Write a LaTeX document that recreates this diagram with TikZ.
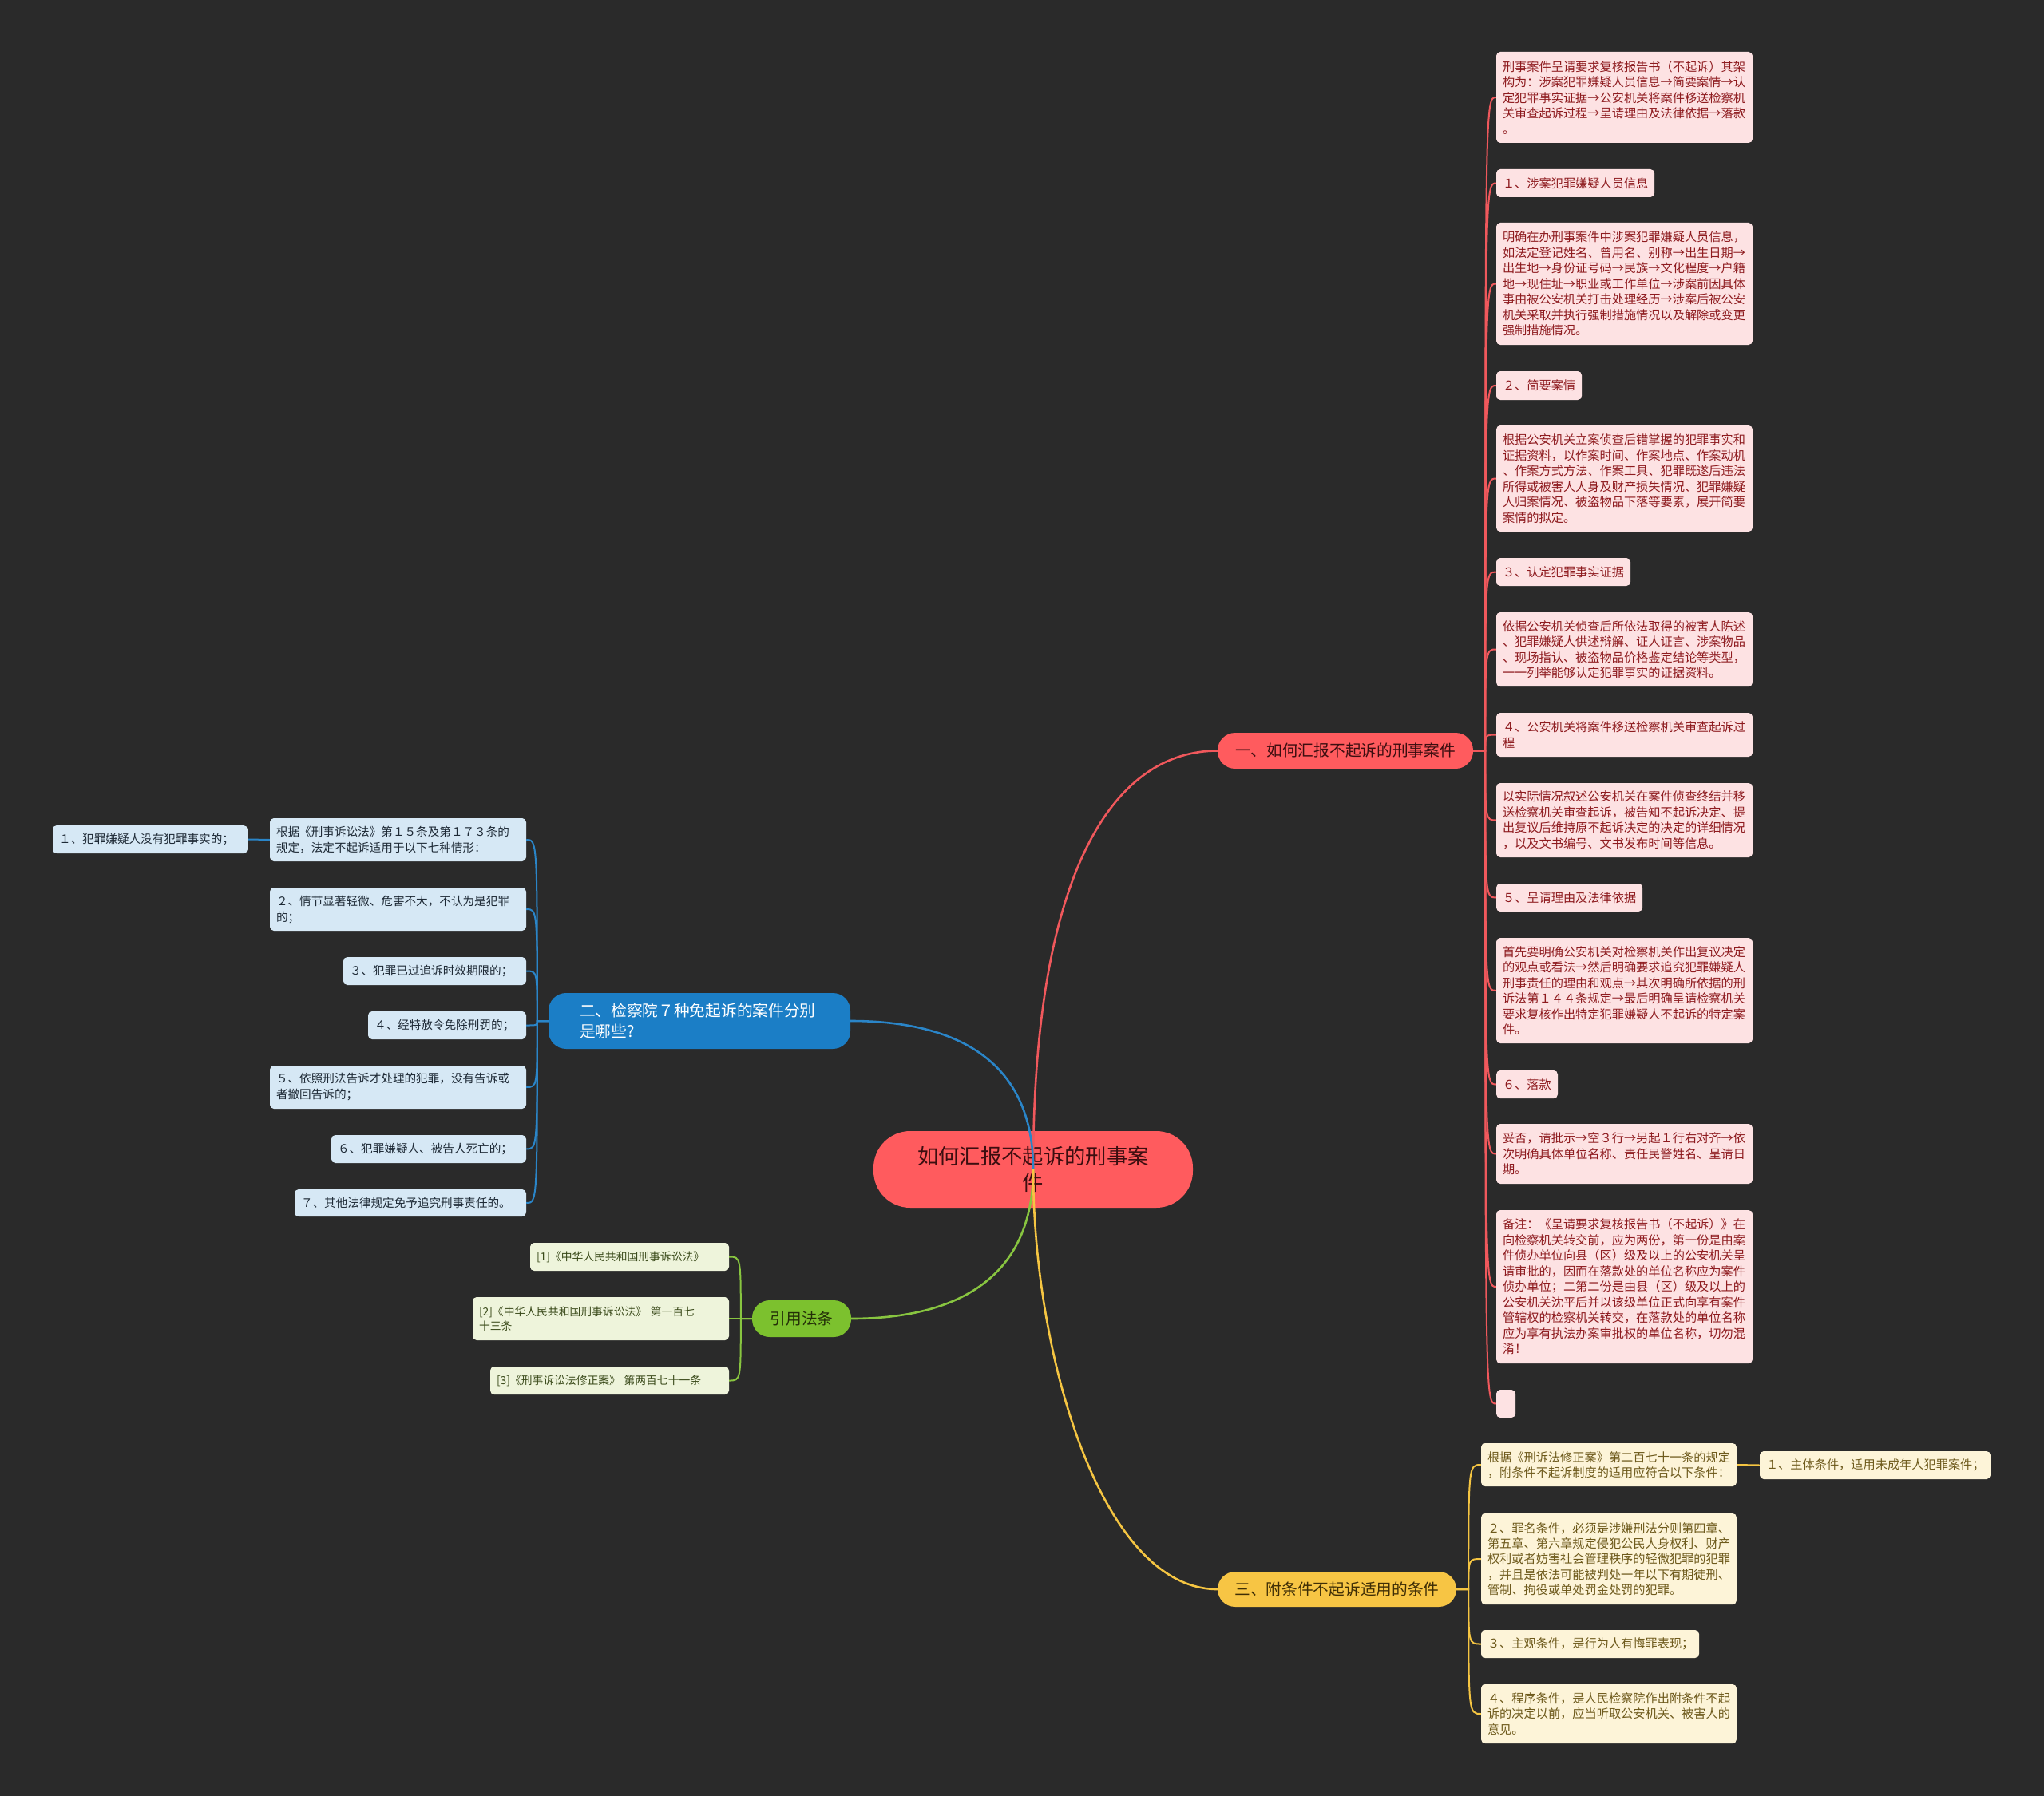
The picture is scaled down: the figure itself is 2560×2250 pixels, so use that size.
\documentclass[tikz,border=0pt]{standalone}
\usepackage{fontspec}
\newfontfamily\cjk{Noto Sans CJK SC}
\usetikzlibrary{calc}
\definecolor{bg}{HTML}{2A2A2A}
\definecolor{rootred}{HTML}{FF5B5E}
\definecolor{redfill}{HTML}{FDE2E3}
\definecolor{redtext}{HTML}{8E1B1F}
\definecolor{redline}{HTML}{F0585C}
\definecolor{redbtext}{HTML}{3C0E10}
\definecolor{bluebranch}{HTML}{1B7EC6}
\definecolor{bluefill}{HTML}{D6E8F5}
\definecolor{bluetext}{HTML}{1E2A36}
\definecolor{blueline}{HTML}{2A85C8}
\definecolor{greenbranch}{HTML}{7CC12E}
\definecolor{greenfill}{HTML}{EEF4DB}
\definecolor{greentext}{HTML}{3A4A1A}
\definecolor{greenline}{HTML}{88C540}
\definecolor{greenbtext}{HTML}{243008}
\definecolor{yellowbranch}{HTML}{F7C544}
\definecolor{yellowfill}{HTML}{FDF4D8}
\definecolor{yellowtext}{HTML}{6E5A1C}
\definecolor{yellowline}{HTML}{F5C542}
\definecolor{yellowbtext}{HTML}{3F2E06}
\newcommand\mmbox[7]{%
  \pgfmathsetmacro\mmw{#5-#3}%
  \pgfmathsetmacro\mmh{#6-#4}%
  \pgfmathsetmacro\mmcx{(#3+#5)/2}%
  \pgfmathsetmacro\mmcy{(#4+#6)/2}%
  \pgfmathsetmacro\mmtw{#5-#3-16}%
  \node[#2, minimum width=\mmw pt, minimum height=\mmh pt, text width=\mmtw pt] (#1) at (\mmcx,\mmcy) {#7};}
% right-going child connector: stub to spine, then vertical run curving into child
\newcommand\mmR[3]{%
  \path (#1.east) ++(15,0) coordinate (sp-#2);
  \draw[#3] (#1.east) -- (sp-#2) .. controls (sp-#2 |- #2.west) .. (#2.west);}
\newcommand\mmL[3]{%
  \path (#1.west) ++(-14,0) coordinate (sp-#2);
  \draw[#3] (#1.west) -- (sp-#2) .. controls (sp-#2 |- #2.east) .. (#2.east);}
\tikzset{
  leafbox/.style={rounded corners=5pt, inner xsep=8pt, inner ysep=6pt, align=left},
  redbox/.style={leafbox, fill=redfill, text=redtext, font=\cjk\fontsize{15.2}{19.5}\selectfont},
  bluebox/.style={leafbox, fill=bluefill, text=bluetext, font=\cjk\fontsize{14.6}{20}\selectfont},
  greenbox/.style={leafbox, fill=greenfill, text=greentext, font=\cjk\fontsize{13.8}{18.3}\selectfont},
  yellowbox/.style={leafbox, fill=yellowfill, text=yellowtext, font=\cjk\fontsize{15.2}{19.2}\selectfont},
  branchbox/.style={rounded corners=22pt, inner sep=4pt, align=center, font=\cjk\fontsize{19.7}{26}\selectfont},
  rootbox/.style={rounded corners=46pt, fill=rootred, text=redbtext, align=center, font=\cjk\fontsize{26.3}{33}\selectfont},
  redln/.style={draw=redline, line width=2pt},
  blueln/.style={draw=blueline, line width=2pt},
  greenln/.style={draw=greenline, line width=2pt},
  yellowln/.style={draw=yellowline, line width=2pt},
  mainln/.style={line width=2.6pt}
}
\begin{document}
\begin{tikzpicture}[x=1pt,y=-1pt]
\fill[bg] (0,0) rectangle (2560,2250);
\useasboundingbox (0,0) rectangle (2560,2250);

% root
\node[rootbox, minimum width=400pt, minimum height=96pt] (root) at (1294,1465) {如何汇报不起诉的刑事案\\件};

% branches
\node[branchbox, fill=rootred, text=redbtext, minimum width=320pt, minimum height=45pt] (B1) at (1685,940.5) {一、如何汇报不起诉的刑事案件};
\node[branchbox, fill=bluebranch, text=white, minimum width=378pt, minimum height=70pt, text width=300pt, align=left] (B2) at (876,1279) {二、检察院７种免起诉的案件分别\\是哪些?};
\node[branchbox, fill=greenbranch, text=greenbtext, minimum width=124pt, minimum height=46pt] (B3) at (1004,1652) {引用法条};
\node[branchbox, fill=yellowbranch, text=yellowbtext, minimum width=299pt, minimum height=44pt] (B4) at (1674.5,1991) {三、附条件不起诉适用的条件};

% red leaves
\mmbox{r0}{redbox}{1874}{65}{2195}{179}{刑事案件呈请要求复核报告书（不起诉）其架\\构为：涉案犯罪嫌疑人员信息→简要案情→认\\定犯罪事实证据→公安机关将案件移送检察机\\关审查起诉过程→呈请理由及法律依据→落款\\。}
\mmbox{r1}{redbox}{1874}{212}{2072}{247}{１、涉案犯罪嫌疑人员信息}
\mmbox{r2}{redbox}{1874}{279}{2195}{432}{明确在办刑事案件中涉案犯罪嫌疑人员信息，\\如法定登记姓名、曾用名、别称→出生日期→\\出生地→身份证号码→民族→文化程度→户籍\\地→现住址→职业或工作单位→涉案前因具体\\事由被公安机关打击处理经历→涉案后被公安\\机关采取并执行强制措施情况以及解除或变更\\强制措施情况。}
\mmbox{r3}{redbox}{1874}{465}{1981}{501}{２、简要案情}
\mmbox{r4}{redbox}{1874}{533}{2195}{666}{根据公安机关立案侦查后错掌握的犯罪事实和\\证据资料，以作案时间、作案地点、作案动机\\、作案方式方法、作案工具、犯罪既遂后违法\\所得或被害人人身及财产损失情况、犯罪嫌疑\\人归案情况、被盗物品下落等要素，展开简要\\案情的拟定。}
\mmbox{r5}{redbox}{1874}{699}{2042}{734}{３、认定犯罪事实证据}
\mmbox{r6}{redbox}{1874}{767}{2195}{860}{依据公安机关侦查后所依法取得的被害人陈述\\、犯罪嫌疑人供述辩解、证人证言、涉案物品\\、现场指认、被盗物品价格鉴定结论等类型，\\一一列举能够认定犯罪事实的证据资料。}
\mmbox{r7}{redbox}{1874}{893}{2195}{948}{４、公安机关将案件移送检察机关审查起诉过\\程}
\mmbox{r8}{redbox}{1874}{981}{2195}{1074}{以实际情况叙述公安机关在案件侦查终结并移\\送检察机关审查起诉，被告知不起诉决定、提\\出复议后维持原不起诉决定的决定的详细情况\\，以及文书编号、文书发布时间等信息。}
\mmbox{r9}{redbox}{1874}{1107}{2057}{1142}{５、呈请理由及法律依据}
\mmbox{r10}{redbox}{1874}{1175}{2195}{1307}{首先要明确公安机关对检察机关作出复议决定\\的观点或看法→然后明确要求追究犯罪嫌疑人\\刑事责任的理由和观点→其次明确所依据的刑\\诉法第１４４条规定→最后明确呈请检察机关\\要求复核作出特定犯罪嫌疑人不起诉的特定案\\件。}
\mmbox{r11}{redbox}{1874}{1341}{1951}{1376}{６、落款}
\mmbox{r12}{redbox}{1874}{1408}{2195}{1483}{妥否，请批示→空３行→另起１行右对齐→依\\次明确具体单位名称、责任民警姓名、呈请日\\期。}
\mmbox{r13}{redbox}{1874}{1516}{2195}{1708}{备注：《呈请要求复核报告书（不起诉）》在\\向检察机关转交前，应为两份，第一份是由案\\件侦办单位向县（区）级及以上的公安机关呈\\请审批的，因而在落款处的单位名称应为案件\\侦办单位；二第二份是由县（区）级及以上的\\公安机关沈平后并以该级单位正式向享有案件\\管辖权的检察机关转交，在落款处的单位名称\\应为享有执法办案审批权的单位名称，切勿混\\淆！}
\mmbox{r14}{redbox}{1874}{1741}{1898}{1776}{}

% blue leaves
\mmbox{b0}{bluebox}{338}{1025}{659}{1079}{根据《刑事诉讼法》第１５条及第１７３条的\\规定，法定不起诉适用于以下七种情形：}
\mmbox{b1}{bluebox}{66}{1034}{310}{1069}{１、犯罪嫌疑人没有犯罪事实的；}
\mmbox{b2}{bluebox}{338}{1112}{659}{1166}{２、情节显著轻微、危害不大，不认为是犯罪\\的；}
\mmbox{b3}{bluebox}{430}{1199}{659}{1234}{３、犯罪已过追诉时效期限的；}
\mmbox{b4}{bluebox}{461}{1267}{659}{1302}{４、经特赦令免除刑罚的；}
\mmbox{b5}{bluebox}{338}{1335}{659}{1389}{５、依照刑法告诉才处理的犯罪，没有告诉或\\者撤回告诉的；}
\mmbox{b6}{bluebox}{415}{1422}{659}{1457}{６、犯罪嫌疑人、被告人死亡的；}
\mmbox{b7}{bluebox}{369}{1490}{659}{1524}{７、其他法律规定免予追究刑事责任的。}

% green leaves
\mmbox{g1}{greenbox}{664}{1557}{913}{1592}{[1]《中华人民共和国刑事诉讼法》}
\mmbox{g2}{greenbox}{592}{1625}{913}{1679}{[2]《中华人民共和国刑事诉讼法》~第一百七\\十三条}
\mmbox{g3}{greenbox}{614}{1712}{913}{1747}{[3]《刑事诉讼法修正案》~第两百七十一条}

% yellow leaves
\mmbox{y0}{yellowbox}{1855}{1808}{2175}{1862}{根据《刑诉法修正案》第二百七十一条的规定\\，附条件不起诉制度的适用应符合以下条件：}
\mmbox{y1}{yellowbox}{2204}{1818}{2493}{1853}{１、主体条件，适用未成年人犯罪案件；}
\mmbox{y2}{yellowbox}{1855}{1896}{2175}{2010}{２、罪名条件，必须是涉嫌刑法分则第四章、\\第五章、第六章规定侵犯公民人身权利、财产\\权利或者妨害社会管理秩序的轻微犯罪的犯罪\\，并且是依法可能被判处一年以下有期徒刑、\\管制、拘役或单处罚金处罚的犯罪。}
\mmbox{y3}{yellowbox}{1855}{2042}{2128}{2077}{３、主观条件，是行为人有悔罪表现；}
\mmbox{y4}{yellowbox}{1855}{2110}{2175}{2184}{４、程序条件，是人民检察院作出附条件不起\\诉的决定以前，应当听取公安机关、被害人的\\意见。}

% root to branch connectors
\draw[redln, mainln] (root.center) .. controls (1294,1080) and (1400,940.5) .. (B1.west);
\draw[blueln, mainln] (root.center) .. controls (1294,1330) and (1200,1279) .. (B2.east);
\draw[greenln, mainln] (root.center) .. controls (1294,1600) and (1200,1652) .. (B3.east);
\draw[yellowln, mainln] (root.center) .. controls (1294,1700) and (1380,1991) .. (B4.west);

% red children
\foreach \c in {r0,r1,r2,r3,r4,r5,r6,r7,r8,r9,r10,r11,r12,r13,r14}{\mmR{B1}{\c}{redln}}
% blue children
\foreach \c in {b0,b2,b3,b4,b5,b6,b7}{\mmL{B2}{\c}{blueln}}
\draw[blueln] (b0.west) -- (b1.east);
% green children
\foreach \c in {g1,g2,g3}{\mmL{B3}{\c}{greenln}}
% yellow children
\foreach \c in {y0,y2,y3,y4}{\mmR{B4}{\c}{yellowln}}
\draw[yellowln] (y0.east) -- (y1.west);
\end{tikzpicture}
\end{document}
